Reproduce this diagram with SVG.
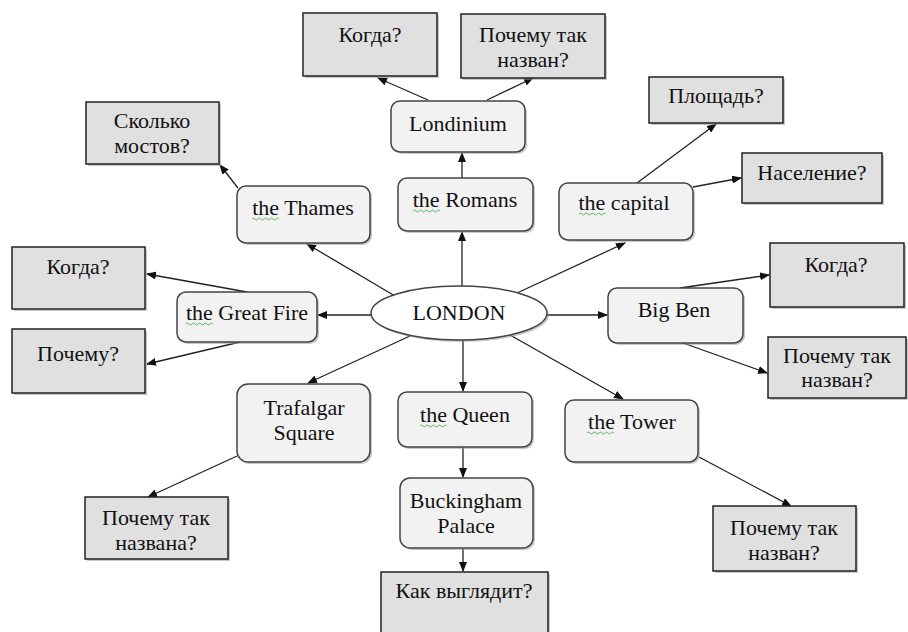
<svg xmlns="http://www.w3.org/2000/svg" width="908" height="632" viewBox="0 0 908 632" font-family="'Liberation Serif', 'DejaVu Serif', serif">
<style>
  .q { fill: #e0e0e0; stroke: #222; stroke-width: 1.5; }
  .n { fill: #f2f2f2; stroke: #444; stroke-width: 1.5; }
  .sh { fill: #9a9a9a; opacity: 0.55; }
  .e { fill: #ffffff; stroke: #444; stroke-width: 1.5; }
  text { font-family: 'Liberation Serif', 'DejaVu Serif', serif; font-size: 22px; fill: #111; text-anchor: middle; }
  .c line { stroke: #222; stroke-width: 1.3; marker-end: url(#ah); }
  .sq { fill: none; stroke: #4caf50; stroke-width: 0.9; }
</style>
<defs>
  <marker id="ah" markerUnits="userSpaceOnUse" markerWidth="10" markerHeight="8" refX="9" refY="4" orient="auto">
    <path d="M0,0 L10,4 L0,8 z" fill="#111"/>
  </marker>
</defs>
<rect width="908" height="632" fill="#ffffff"/>

<g id="connectors" class="c">
  <line x1="462" y1="287" x2="462" y2="232"/>
  <line x1="462" y1="178" x2="462" y2="153"/>
  <line x1="428" y1="100" x2="378" y2="78"/>
  <line x1="487" y1="100" x2="533" y2="78"/>
  <line x1="395" y1="296" x2="307" y2="244"/>
  <line x1="238" y1="188" x2="220" y2="165"/>
  <line x1="371" y1="315" x2="318" y2="315"/>
  <line x1="247" y1="292" x2="147" y2="274"/>
  <line x1="240" y1="342" x2="147" y2="364"/>
  <line x1="410" y1="336" x2="308" y2="383"/>
  <line x1="237" y1="456" x2="148" y2="497"/>
  <line x1="463" y1="340" x2="463" y2="391"/>
  <line x1="463" y1="447" x2="463" y2="477"/>
  <line x1="463" y1="548" x2="463" y2="571"/>
  <line x1="510" y1="335" x2="623" y2="399"/>
  <line x1="699" y1="457" x2="791" y2="506"/>
  <line x1="517" y1="293" x2="625" y2="243"/>
  <line x1="637" y1="183" x2="716" y2="124"/>
  <line x1="693" y1="187" x2="741" y2="178"/>
  <line x1="547" y1="315" x2="607" y2="315"/>
  <line x1="680" y1="288" x2="769" y2="275"/>
  <line x1="683" y1="343" x2="767" y2="373"/>
</g>

<g id="london">
  <ellipse class="sh" cx="461" cy="315" rx="88" ry="27"/>
  <ellipse class="e" cx="459" cy="313" rx="88" ry="27"/>
  <text x="459" y="320">LONDON</text>
</g>

<g id="romans">
  <rect class="sh" x="400" y="180" width="135" height="53" rx="9"/>
  <rect class="n" x="398" y="178" width="135" height="53" rx="9"/>
  <text x="465" y="207">the Romans</text>
  <path class="sq" d="M413,211 q1.5,-2 3,0 t3,0 t3,0 t3,0 t3,0 t3,0 t3,0 t3,0 t3,0"/>
</g>

<g id="londinium">
  <rect class="sh" x="393" y="103" width="134" height="51" rx="9"/>
  <rect class="n" x="391" y="101" width="134" height="51" rx="9"/>
  <text x="458" y="131">Londinium</text>
</g>

<g id="q-londinium-when">
  <rect class="sh" x="305" y="15" width="134" height="63"/>
  <rect class="q" x="303" y="13" width="134" height="63"/>
  <text x="370" y="42">Когда?</text>
</g>

<g id="q-londinium-why">
  <rect class="sh" x="463" y="16" width="144" height="64"/>
  <rect class="q" x="461" y="14" width="144" height="64"/>
  <text x="533" y="42">Почему так</text>
  <text x="533" y="67">назван?</text>
</g>

<g id="thames">
  <rect class="sh" x="239" y="188" width="133" height="57" rx="9"/>
  <rect class="n" x="237" y="186" width="133" height="57" rx="9"/>
  <text x="303" y="215">the Thames</text>
  <path class="sq" d="M252,219 q1.5,-2 3,0 t3,0 t3,0 t3,0 t3,0 t3,0 t3,0 t3,0 t3,0"/>
</g>

<g id="q-thames">
  <rect class="sh" x="88" y="104" width="133" height="62"/>
  <rect class="q" x="86" y="102" width="133" height="62"/>
  <text x="152" y="128">Сколько</text>
  <text x="152" y="153">мостов?</text>
</g>

<g id="greatfire">
  <rect class="sh" x="179" y="294" width="140" height="50" rx="9"/>
  <rect class="n" x="177" y="292" width="140" height="50" rx="9"/>
  <text x="247" y="320">the Great Fire</text>
  <path class="sq" d="M186,324 q1.5,-2 3,0 t3,0 t3,0 t3,0 t3,0 t3,0 t3,0 t3,0 t3,0"/>
</g>

<g id="q-fire-when">
  <rect class="sh" x="14" y="249" width="133" height="62"/>
  <rect class="q" x="12" y="247" width="133" height="62"/>
  <text x="78" y="274">Когда?</text>
</g>

<g id="q-fire-why">
  <rect class="sh" x="14" y="331" width="133" height="64"/>
  <rect class="q" x="12" y="329" width="133" height="64"/>
  <text x="78" y="361">Почему?</text>
</g>

<g id="trafalgar">
  <rect class="sh" x="239" y="386" width="133" height="78" rx="11"/>
  <rect class="n" x="237" y="384" width="133" height="78" rx="11"/>
  <text x="304" y="415">Trafalgar</text>
  <text x="304" y="440">Square</text>
</g>

<g id="q-trafalgar">
  <rect class="sh" x="87" y="499" width="143" height="62"/>
  <rect class="q" x="85" y="497" width="143" height="62"/>
  <text x="156" y="525">Почему так</text>
  <text x="156" y="550">названа?</text>
</g>

<g id="queen">
  <rect class="sh" x="400" y="394" width="134" height="55" rx="9"/>
  <rect class="n" x="398" y="392" width="134" height="55" rx="9"/>
  <text x="465" y="422">the Queen</text>
  <path class="sq" d="M420,426 q1.5,-2 3,0 t3,0 t3,0 t3,0 t3,0 t3,0 t3,0 t3,0 t3,0"/>
</g>

<g id="buckingham">
  <rect class="sh" x="402" y="480" width="133" height="70" rx="10"/>
  <rect class="n" x="400" y="478" width="133" height="70" rx="10"/>
  <text x="466" y="508">Buckingham</text>
  <text x="466" y="533">Palace</text>
</g>

<g id="q-buckingham">
  <rect class="sh" x="383" y="574" width="167" height="70"/>
  <rect class="q" x="381" y="572" width="167" height="70"/>
  <text x="464" y="598">Как выглядит?</text>
</g>

<g id="tower">
  <rect class="sh" x="567" y="402" width="133" height="62" rx="9"/>
  <rect class="n" x="565" y="400" width="133" height="62" rx="9"/>
  <text x="632" y="429">the Tower</text>
  <path class="sq" d="M587,433 q1.5,-2 3,0 t3,0 t3,0 t3,0 t3,0 t3,0 t3,0 t3,0 t3,0"/>
</g>

<g id="q-tower">
  <rect class="sh" x="715" y="508" width="143" height="65"/>
  <rect class="q" x="713" y="506" width="143" height="65"/>
  <text x="784" y="535">Почему так</text>
  <text x="784" y="560">назван?</text>
</g>

<g id="capital">
  <rect class="sh" x="561" y="185" width="134" height="57" rx="9"/>
  <rect class="n" x="559" y="183" width="134" height="57" rx="9"/>
  <text x="624" y="210">the capital</text>
  <path class="sq" d="M579,214 q1.5,-2 3,0 t3,0 t3,0 t3,0 t3,0 t3,0 t3,0 t3,0 t3,0"/>
</g>

<g id="q-capital-area">
  <rect class="sh" x="651" y="79" width="134" height="46"/>
  <rect class="q" x="649" y="77" width="134" height="46"/>
  <text x="716" y="103">Площадь?</text>
</g>

<g id="q-capital-pop">
  <rect class="sh" x="744" y="155" width="140" height="50"/>
  <rect class="q" x="742" y="153" width="140" height="50"/>
  <text x="812" y="180">Население?</text>
</g>

<g id="bigben">
  <rect class="sh" x="610" y="290" width="135" height="55" rx="9"/>
  <rect class="n" x="608" y="288" width="135" height="55" rx="9"/>
  <text x="674" y="317">Big Ben</text>
</g>

<g id="q-bigben-when">
  <rect class="sh" x="772" y="245" width="134" height="64"/>
  <rect class="q" x="770" y="243" width="134" height="64"/>
  <text x="836" y="272">Когда?</text>
</g>

<g id="q-bigben-why">
  <rect class="sh" x="770" y="339" width="138" height="61"/>
  <rect class="q" x="768" y="337" width="138" height="61"/>
  <text x="837" y="363">Почему так</text>
  <text x="837" y="387">назван?</text>
</g>
</svg>
